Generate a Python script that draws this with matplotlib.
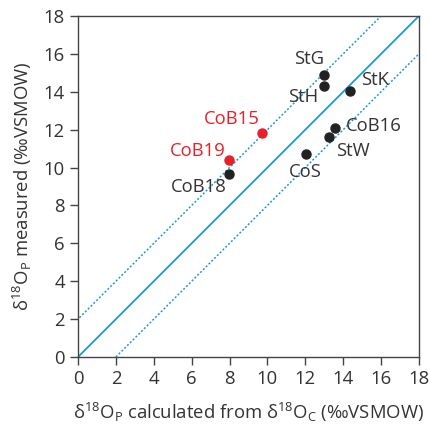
import numpy as np
import matplotlib.pyplot as plt

plt.rcParams['font.family'] = ['Open Sans', 'DejaVu Sans']
plt.rcParams['mathtext.fontset'] = 'custom'
plt.rcParams['mathtext.rm'] = 'Open Sans'

# samples: calculated vs measured d18O_P
names = ["StG", "StH", "StK", "CoB16", "StW", "CoS", "CoB15", "CoB19", "CoB18"]
calc = [12.98, 12.98, 14.35, 13.58, 13.27, 12.03, 9.70, 7.98, 7.98]
meas = [14.89, 14.33, 14.06, 12.11, 11.60, 10.72, 11.84, 10.40, 9.66]
colors = ["#222222"] * 6 + ["#e8202a", "#e8202a", "#222222"]
# label positions (data units)
lab_x = [12.2, 11.9, 15.7, 15.6, 14.5, 12.0, 8.1, 6.3, 6.4]
lab_y = [15.75, 13.7, 14.6, 12.2, 10.9, 9.75, 12.55, 10.9, 8.95]

blue = "#1a9ad6"
txt = "#333333"
fs = 13.3

fig = plt.figure(figsize=(4.31, 4.33), dpi=100)
ax = fig.add_axes([0.181, 0.1755, 0.791, 0.7875])

line = np.array([-2, 20])
ax.plot(line, line, color=blue, lw=1.3)
ax.plot(line, line + 2, color=blue, lw=1.1, ls=(0, (1.3, 1.3)))
ax.plot(line, line - 2, color=blue, lw=1.1, ls=(0, (1.3, 1.3)))

for x, y, c in zip(calc, meas, colors):
    ax.plot(x, y, 'o', color=c, ms=6.5, zorder=3)

for n, x, y, c in zip(names, lab_x, lab_y, colors):
    ax.text(x, y, n, color=c if c != "#222222" else txt, fontsize=fs,
            ha='center', va='center')

ax.set_xlim(0, 18)
ax.set_ylim(0, 18)
ax.set_xticks(range(0, 19, 2))
ax.set_yticks(range(0, 19, 2))
ax.tick_params(direction='out', length=6, width=1, colors="#444444",
               labelcolor=txt, labelsize=fs)
for s in ax.spines.values():
    s.set_color("#444444")
    s.set_linewidth(1)

ax.set_xlabel(r'δ$^{\mathregular{18}}$O$_{\mathregular{P}}$ calculated from '
              r'δ$^{\mathregular{18}}$O$_{\mathregular{C}}$ (‰VSMOW)',
              fontsize=fs, color=txt, labelpad=9)
ax.set_ylabel(r'δ$^{\mathregular{18}}$O$_{\mathregular{P}}$ measured (‰VSMOW)',
              fontsize=fs, color=txt, labelpad=7)

fig.savefig("out.png", dpi=100)
